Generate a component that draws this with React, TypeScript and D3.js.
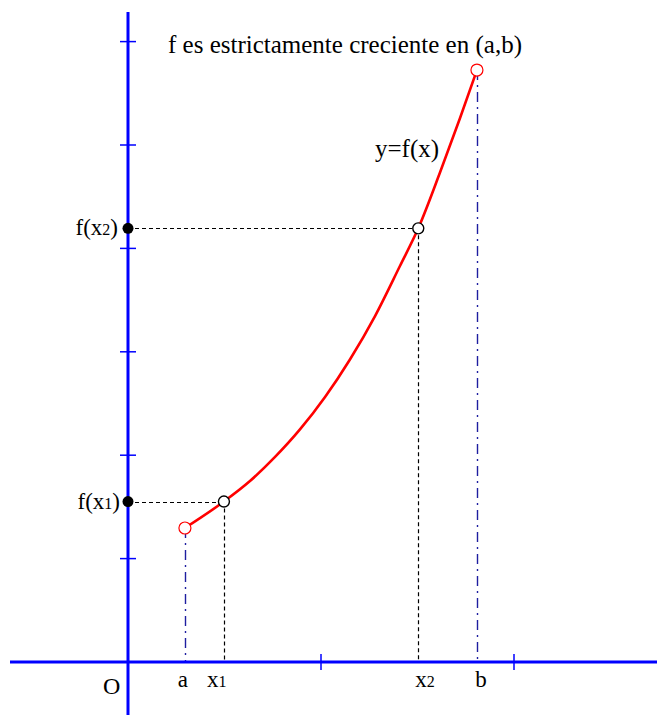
import React from "react";
import * as d3 from "d3";

// curve y = f(x) (axis units: one tick = 1)
const curveX = [0.295, 0.497, 0.632, 0.762, 0.891, 1.021, 1.15, 1.28, 1.409, 1.504, 1.617, 1.72, 1.808];
const curveY = [1.296, 1.552, 1.75, 1.983, 2.249, 2.563, 2.926, 3.346, 3.83, 4.194, 4.736, 5.258, 5.725];

const endpointX = [0.295, 1.808]; // a, b
const endpointLabels = ["a", "b"];
const pointX = [0.497, 1.504]; // x1, x2
const pointY = [1.552, 4.194]; // f(x1), f(x2)
const pointSub = ["1", "2"];
const xTicks = [1, 2];
const yTicks = [1, 2, 3, 4, 5, 6];
const title = "f es estrictamente creciente en (a,b)";
const curveLabel = "y=f(x)";

const W = 657;
const H = 715;
const FONT = "'Liberation Serif', 'Times New Roman', serif";

export default function App() {
  const x = d3.scaleLinear().domain([0, 1]).range([128, 321]);
  const y = d3.scaleLinear().domain([0, 1]).range([662, 558.6]);
  const blue = "#0000ff";
  const navy = "#1e1ea0";

  const pts = curveX.map((v, i) => [v, curveY[i]] as [number, number]);
  const line = d3
    .line<[number, number]>()
    .x((d) => x(d[0]))
    .y((d) => y(d[1]))
    .curve(d3.curveMonotoneX);

  const fEnd = [curveY[0], curveY[curveY.length - 1]];
  const xLabelDx = [-17, -3];
  const fLabelEnd = [120, 118];
  const endLabelDx = [-2, 4];

  return (
    <svg
      width={W}
      height={H}
      style={{ position: "absolute", left: 0, top: 0, background: "#fff" }}
      fontFamily={FONT}
    >
      <rect x={0} y={0} width={W} height={H} fill="#fff" />
      {/* dashed guides for x1, x2 */}
      {pointX.map((px, i) => (
        <g key={"g" + i}>
          <line x1={x(0)} x2={x(px)} y1={Math.round(y(pointY[i])) + 0.5} y2={Math.round(y(pointY[i])) + 0.5} stroke="#000" strokeWidth={1.2} strokeDasharray="4,3" />
          <line x1={Math.round(x(px)) + 0.5} x2={Math.round(x(px)) + 0.5} y1={y(pointY[i])} y2={y(0)} stroke="#000" strokeWidth={1.2} strokeDasharray="4,3" />
        </g>
      ))}
      {/* dash-dot lines for a, b */}
      {endpointX.map((ex, i) => (
        <line key={"e" + i} x1={Math.round(x(ex)) + 0.5} x2={Math.round(x(ex)) + 0.5} y1={y(fEnd[i])} y2={y(0)} stroke={navy} strokeWidth={1.4} strokeDasharray="10,5,2,5" />
      ))}
      {/* axes */}
      <line x1={10} x2={657} y1={y(0)} y2={y(0)} stroke={blue} strokeWidth={3} />
      <line x1={x(0)} x2={x(0)} y1={12} y2={715} stroke={blue} strokeWidth={3} />
      {xTicks.map((t) => (
        <line key={"xt" + t} x1={x(t)} x2={x(t)} y1={y(0) - 8} y2={y(0) + 8} stroke={blue} strokeWidth={1.5} />
      ))}
      {yTicks.map((t) => (
        <line key={"yt" + t} x1={x(0) - 8} x2={x(0) + 8} y1={y(t)} y2={y(t)} stroke={blue} strokeWidth={1.5} />
      ))}
      {/* curve */}
      <path d={line(pts) || ""} fill="none" stroke="#ff0000" strokeWidth={2.6} />
      {/* endpoints */}
      {endpointX.map((ex, i) => (
        <circle key={"ec" + i} cx={x(ex)} cy={y(fEnd[i])} r={6} fill="#fff" stroke="#ff0000" strokeWidth={1.2} />
      ))}
      {/* points on curve */}
      {pointX.map((px, i) => (
        <g key={"p" + i}>
          <circle cx={x(px)} cy={y(pointY[i])} r={5.5} fill="#fff" stroke="#000" strokeWidth={1.4} />
          <circle cx={x(0)} cy={y(pointY[i])} r={5.5} fill="#000" />
          <text x={fLabelEnd[i]} y={y(pointY[i]) + 7} fontSize={23} textAnchor="end" fill="#000">
            f(x<tspan fontSize={16}>{pointSub[i]}</tspan>)
          </text>
          <text x={x(px) + xLabelDx[i]} y={y(0) + 25} fontSize={23} fill="#000">
            x<tspan fontSize={16}>{pointSub[i]}</tspan>
          </text>
        </g>
      ))}
      {endpointLabels.map((lab, i) => (
        <text key={"el" + i} x={x(endpointX[i]) + endLabelDx[i]} y={y(0) + 25} fontSize={23} textAnchor="middle" fill="#000">
          {lab}
        </text>
      ))}
      <text x={103} y={y(0) + 32} fontSize={24} fill="#000">O</text>
      <text x={168} y={53} fontSize={25} fill="#000">{title}</text>
      <text x={375} y={157} fontSize={25} fill="#000">{curveLabel}</text>
    </svg>
  );
}
